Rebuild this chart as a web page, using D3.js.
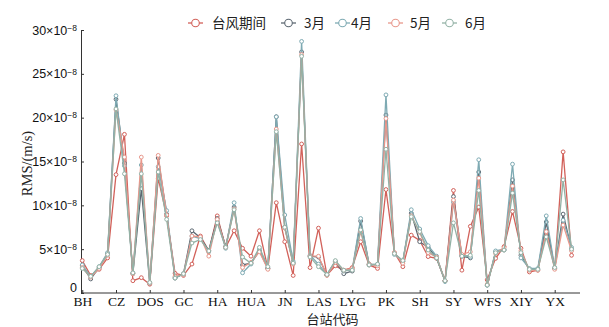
<!DOCTYPE html>
<html>
<head>
<meta charset="utf-8">
<script src="https://cdn.jsdelivr.net/npm/d3@7"></script>
<style>
  body { margin: 0; background: #fff; }
  svg { display: block; font-family: "Liberation Serif", "Noto Sans CJK SC", serif; }
</style>
</head>
<body>
<div id="vis"></div>
<script>
// station tick labels (every 4th station is labelled)
var tickLabels = ['BH', 'CZ', 'DOS', 'GC', 'HA', 'HUA', 'JN', 'LAS', 'LYG', 'PK', 'SH', 'SY', 'WFS', 'XIY', 'YX'];
var tickStep = 4;

// RMS values, unit 1e-8 m/s, one value per station
var typhoon = [3.7, 2.0, 2.7, 4.0, 13.5, 18.1, 1.4, 1.75, 1.0, 13.1, 8.8, 2.25, 2.0, 3.3, 6.5, 4.8, 8.8, 5.2, 7.1, 5.1,
  4.2, 7.1, 2.8, 10.3, 5.85, 2.0, 17.0, 2.9, 7.4, 2.05, 3.1, 2.6, 2.9, 5.85, 3.2, 2.8, 11.8, 4.6, 3.0, 6.6,
  6.0, 4.15, 3.95, 1.4, 11.7, 2.6, 7.6, 9.8, 1.5, 3.95, 5.3, 9.3, 5.1, 2.4, 2.6, 7.4, 2.8, 16.1, 4.3];
var march = [3.1, 1.6, 2.9, 4.5, 22.1, 14.8, 2.2, 11.9, 1.1, 15.4, 9.0, 1.7, 2.2, 7.1, 6.3, 4.8, 8.5, 5.3, 9.8, 3.2,
  3.4, 4.8, 2.8, 20.1, 7.5, 3.4, 27.5, 4.2, 4.1, 2.05, 3.6, 2.2, 2.5, 8.2, 3.3, 3.2, 20.3, 4.5, 3.6, 9.1,
  5.85, 5.2, 4.0, 1.4, 11.0, 4.2, 4.0, 13.8, 0.9, 4.7, 4.9, 12.9, 4.3, 2.7, 2.7, 8.1, 2.8, 9.0, 5.0];
var april = [3.2, 1.9, 3.0, 4.6, 22.5, 14.5, 2.3, 14.6, 1.2, 14.4, 9.4, 1.8, 2.1, 6.5, 6.2, 4.7, 8.2, 5.1, 10.3, 2.3,
  3.3, 5.0, 2.9, 20.1, 8.9, 3.6, 28.7, 4.3, 3.3, 2.1, 3.6, 2.5, 2.7, 8.5, 3.2, 3.3, 22.6, 4.4, 3.6, 9.5,
  7.3, 5.4, 4.2, 1.3, 10.4, 4.3, 4.1, 15.2, 0.9, 4.8, 5.0, 14.7, 4.0, 2.8, 2.8, 8.8, 2.9, 8.3, 5.2];
var may = [2.9, 1.8, 2.8, 4.3, 20.9, 15.5, 2.2, 15.5, 1.1, 15.7, 8.9, 1.9, 2.1, 6.5, 6.4, 4.2, 8.4, 5.2, 9.6, 2.9,
  3.5, 4.7, 2.7, 18.7, 7.4, 3.3, 27.2, 4.2, 4.2, 2.0, 3.5, 2.6, 2.8, 7.0, 3.3, 3.1, 19.9, 4.6, 3.4, 8.8,
  6.9, 4.6, 4.1, 1.4, 10.6, 4.4, 4.7, 13.1, 1.0, 4.5, 5.2, 12.2, 4.8, 2.6, 2.6, 7.0, 2.7, 7.75, 4.8];
var june = [2.8, 1.9, 3.0, 4.4, 21.0, 13.6, 2.3, 13.6, 1.2, 13.8, 8.4, 1.7, 2.2, 5.7, 6.1, 4.8, 8.0, 5.2, 9.5, 4.1,
  3.4, 5.2, 3.0, 18.4, 7.5, 3.4, 27.0, 4.1, 3.0, 2.1, 3.7, 2.6, 2.6, 7.2, 3.2, 3.3, 16.4, 4.5, 3.7, 8.7,
  7.0, 4.9, 4.0, 1.4, 8.0, 4.2, 4.3, 11.7, 0.9, 4.6, 4.9, 11.4, 4.6, 2.7, 2.7, 6.4, 2.9, 12.9, 5.0];

var seriesNames = ['台风期间', '3月', '4月', '5月', '6月'];
var seriesColors = ['#d2615a', '#5d6872', '#7eaab3', '#e8988c', '#93b2a6'];
var seriesValues = [typhoon, march, april, may, june];
var yTicks = [0, 5, 10, 15, 20, 25, 30];

var width = 609, height = 327;
var margin = { top: 30, left: 81, bottom: 34, right: 29 };

var svg = d3.select('#vis').append('svg')
  .attr('width', width)
  .attr('height', height);

var n = typhoon.length;

var x = d3.scaleLinear()
  .domain([-0.15, n])
  .range([margin.left, width - margin.right]);

var y = d3.scaleLinear()
  .domain([0, 30])
  .range([height - margin.bottom, margin.top]);

// x axis, ticks pointing inward
var xAxis = d3.axisBottom(x)
  .tickValues(d3.range(0, tickLabels.length * tickStep, tickStep))
  .tickFormat(function(d) { return tickLabels[d / tickStep]; })
  .tickSizeInner(-3)
  .tickSizeOuter(0)
  .tickPadding(3);

var gx = svg.append('g')
  .attr('transform', 'translate(0,' + y(0) + ')')
  .call(xAxis);
gx.select('.domain').attr('d', 'M' + margin.left + ',0H' + (width - margin.right));
gx.selectAll('text').attr('font-size', 13.5).attr('font-family', '"Liberation Serif", serif').attr('fill', '#111');
gx.selectAll('line').attr('stroke', '#333');
gx.selectAll('.domain').attr('stroke', '#333');

// y axis
var yAxis = d3.axisLeft(y)
  .tickValues(yTicks)
  .tickSizeInner(-3)
  .tickSizeOuter(0)
  .tickPadding(5)
  .tickFormat('');

var gy = svg.append('g')
  .attr('transform', 'translate(' + margin.left + ',0)')
  .call(yAxis);
gy.selectAll('line').attr('stroke', '#333');
gy.selectAll('.domain').attr('stroke', '#333');

// y tick labels with 10^-8 superscript
gy.selectAll('.tick').append('text')
  .attr('x', -4)
  .attr('dy', function(d) { return d === 0 ? '-0.1em' : '0.32em'; })
  .attr('text-anchor', 'end')
  .attr('font-size', 12.5)
  .attr('fill', '#111')
  .each(function(d) {
    var t = d3.select(this);
    if (d === 0) {
      t.text('0');
      return;
    }
    t.append('tspan').text(d + '×10');
    t.append('tspan').attr('dy', '-0.45em').attr('font-size', 8.5).text('−8');
  });

// axis titles
svg.append('text')
  .attr('x', (margin.left + width - margin.right) / 2 + 2)
  .attr('y', 324)
  .attr('text-anchor', 'middle')
  .attr('font-size', 13)
  .attr('font-family', '"Noto Sans CJK SC", sans-serif')
  .attr('fill', '#222')
  .text('台站代码');

svg.append('text')
  .attr('transform', 'translate(32,' + (y(15) + 2) + ') rotate(-90)')
  .attr('text-anchor', 'middle')
  .attr('font-size', 14.5)
  .attr('fill', '#222')
  .text('RMS/(m/s)');

// lines and markers
var line = d3.line()
  .x(function(d, i) { return x(i); })
  .y(function(d) { return y(d); });

var groups = svg.append('g').selectAll('g')
  .data(seriesValues)
  .enter().append('g');

groups.append('path')
  .attr('d', line)
  .attr('fill', 'none')
  .attr('stroke', function(d, i) { return seriesColors[i]; })
  .attr('stroke-width', 1.3);

groups.each(function(vals, si) {
  d3.select(this).selectAll('circle')
    .data(vals)
    .enter().append('circle')
    .attr('cx', function(d, i) { return x(i); })
    .attr('cy', function(d) { return y(d); })
    .attr('r', 1.9)
    .attr('fill', '#fff')
    .attr('stroke', seriesColors[si])
    .attr('stroke-width', 1);
});

// legend
var legendX = [188, 281, 335, 388, 442];
var legendGap = [9, 8, 1, 7, 8];
var legend = svg.append('g').selectAll('g')
  .data(seriesNames)
  .enter().append('g')
  .attr('transform', function(d, i) { return 'translate(' + legendX[i] + ',23)'; });

legend.append('line')
  .attr('x1', 0).attr('x2', 15)
  .attr('stroke', function(d, i) { return seriesColors[i]; })
  .attr('stroke-width', 1.3);

legend.append('circle')
  .attr('cx', 7.5).attr('r', 3.8)
  .attr('fill', '#fff')
  .attr('stroke', function(d, i) { return seriesColors[i]; })
  .attr('stroke-width', 1.1);

legend.append('text')
  .attr('x', function(d, i) { return 15 + legendGap[i]; })
  .attr('dy', '0.35em')
  .attr('font-size', 13.5)
  .attr('fill', '#222')
  .attr('font-family', '"Noto Sans CJK SC", "Liberation Serif", sans-serif')
  .text(function(d) { return d; });
</script>
</body>
</html>
